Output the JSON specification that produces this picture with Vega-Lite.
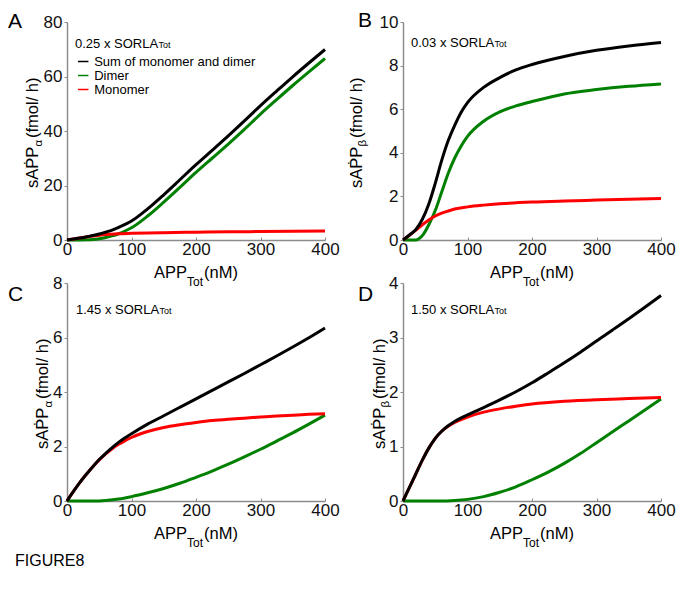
{
  "$schema": "https://vega.github.io/schema/vega-lite/v6.json",
  "padding": {"left": 8, "top": 10, "right": 5, "bottom": 5},
  "background": "white",
  "config": {
    "view": {"stroke": null},
    "text": {"font": "Liberation Sans", "color": "#000000"},
    "axis": {"grid": false, "domainColor": "#8c8c8c", "domainWidth": 1.5, "tickColor": "#8c8c8c", "tickWidth": 1, "tickSize": 3, "labelFont": "Liberation Sans", "labelFontSize": 17, "labelColor": "#111111", "labelPadding": 2, "labelFlush": false, "labelOverlap": false},
    "axisX": {"tickSize": -3, "labelPadding": 4}
  },
  "datasets": {
    "A": [
      {"s": "Dimer", "x": 0, "y": 0}, {"s": "Dimer", "x": 20, "y": 0.02}, {"s": "Dimer", "x": 30, "y": 0.06}, {"s": "Dimer", "x": 40, "y": 0.18}, {"s": "Dimer", "x": 50, "y": 0.45}, {"s": "Dimer", "x": 60, "y": 0.9}, {"s": "Dimer", "x": 70, "y": 1.5}, {"s": "Dimer", "x": 80, "y": 2.3}, {"s": "Dimer", "x": 90, "y": 3.3}, {"s": "Dimer", "x": 100, "y": 4.5}, {"s": "Dimer", "x": 125, "y": 8.8}, {"s": "Dimer", "x": 150, "y": 13.9}, {"s": "Dimer", "x": 175, "y": 19.3}, {"s": "Dimer", "x": 200, "y": 24.8}, {"s": "Dimer", "x": 225, "y": 30.0}, {"s": "Dimer", "x": 250, "y": 35.2}, {"s": "Dimer", "x": 275, "y": 40.6}, {"s": "Dimer", "x": 300, "y": 46.2}, {"s": "Dimer", "x": 325, "y": 51.5}, {"s": "Dimer", "x": 350, "y": 56.7}, {"s": "Dimer", "x": 375, "y": 61.7}, {"s": "Dimer", "x": 400, "y": 66.6},
      {"s": "Monomer", "x": 0, "y": 0}, {"s": "Monomer", "x": 10, "y": 0.35}, {"s": "Monomer", "x": 20, "y": 0.7}, {"s": "Monomer", "x": 30, "y": 1.1}, {"s": "Monomer", "x": 40, "y": 1.45}, {"s": "Monomer", "x": 50, "y": 1.75}, {"s": "Monomer", "x": 60, "y": 2.0}, {"s": "Monomer", "x": 70, "y": 2.15}, {"s": "Monomer", "x": 80, "y": 2.3}, {"s": "Monomer", "x": 100, "y": 2.45}, {"s": "Monomer", "x": 125, "y": 2.6}, {"s": "Monomer", "x": 150, "y": 2.7}, {"s": "Monomer", "x": 200, "y": 2.85}, {"s": "Monomer", "x": 250, "y": 3.0}, {"s": "Monomer", "x": 300, "y": 3.1}, {"s": "Monomer", "x": 350, "y": 3.2}, {"s": "Monomer", "x": 400, "y": 3.3},
      {"s": "Sum of monomer and dimer", "x": 0, "y": 0}, {"s": "Sum of monomer and dimer", "x": 10, "y": 0.35}, {"s": "Sum of monomer and dimer", "x": 20, "y": 0.72}, {"s": "Sum of monomer and dimer", "x": 30, "y": 1.16}, {"s": "Sum of monomer and dimer", "x": 40, "y": 1.63}, {"s": "Sum of monomer and dimer", "x": 50, "y": 2.2}, {"s": "Sum of monomer and dimer", "x": 60, "y": 2.9}, {"s": "Sum of monomer and dimer", "x": 70, "y": 3.65}, {"s": "Sum of monomer and dimer", "x": 80, "y": 4.6}, {"s": "Sum of monomer and dimer", "x": 90, "y": 5.7}, {"s": "Sum of monomer and dimer", "x": 100, "y": 6.95}, {"s": "Sum of monomer and dimer", "x": 125, "y": 11.4}, {"s": "Sum of monomer and dimer", "x": 150, "y": 16.6}, {"s": "Sum of monomer and dimer", "x": 175, "y": 22.1}, {"s": "Sum of monomer and dimer", "x": 200, "y": 27.65}, {"s": "Sum of monomer and dimer", "x": 225, "y": 32.9}, {"s": "Sum of monomer and dimer", "x": 250, "y": 38.2}, {"s": "Sum of monomer and dimer", "x": 275, "y": 43.7}, {"s": "Sum of monomer and dimer", "x": 300, "y": 49.3}, {"s": "Sum of monomer and dimer", "x": 325, "y": 54.65}, {"s": "Sum of monomer and dimer", "x": 350, "y": 59.9}, {"s": "Sum of monomer and dimer", "x": 375, "y": 64.95}, {"s": "Sum of monomer and dimer", "x": 400, "y": 69.9}
    ],
    "B": [
      {"s": "Dimer", "x": 0, "y": 0}, {"s": "Dimer", "x": 20, "y": 0.0}, {"s": "Dimer", "x": 25, "y": 0.07}, {"s": "Dimer", "x": 30, "y": 0.2}, {"s": "Dimer", "x": 40, "y": 0.7}, {"s": "Dimer", "x": 50, "y": 1.35}, {"s": "Dimer", "x": 60, "y": 2.2}, {"s": "Dimer", "x": 70, "y": 3.05}, {"s": "Dimer", "x": 80, "y": 3.75}, {"s": "Dimer", "x": 90, "y": 4.3}, {"s": "Dimer", "x": 100, "y": 4.75}, {"s": "Dimer", "x": 125, "y": 5.45}, {"s": "Dimer", "x": 150, "y": 5.88}, {"s": "Dimer", "x": 175, "y": 6.15}, {"s": "Dimer", "x": 200, "y": 6.35}, {"s": "Dimer", "x": 250, "y": 6.7}, {"s": "Dimer", "x": 300, "y": 6.9}, {"s": "Dimer", "x": 350, "y": 7.05}, {"s": "Dimer", "x": 400, "y": 7.16},
      {"s": "Monomer", "x": 0, "y": 0}, {"s": "Monomer", "x": 10, "y": 0.22}, {"s": "Monomer", "x": 20, "y": 0.45}, {"s": "Monomer", "x": 30, "y": 0.7}, {"s": "Monomer", "x": 40, "y": 0.92}, {"s": "Monomer", "x": 50, "y": 1.1}, {"s": "Monomer", "x": 60, "y": 1.23}, {"s": "Monomer", "x": 70, "y": 1.33}, {"s": "Monomer", "x": 80, "y": 1.42}, {"s": "Monomer", "x": 100, "y": 1.52}, {"s": "Monomer", "x": 125, "y": 1.6}, {"s": "Monomer", "x": 150, "y": 1.66}, {"s": "Monomer", "x": 200, "y": 1.74}, {"s": "Monomer", "x": 250, "y": 1.79}, {"s": "Monomer", "x": 300, "y": 1.83}, {"s": "Monomer", "x": 350, "y": 1.87}, {"s": "Monomer", "x": 400, "y": 1.9},
      {"s": "Sum of monomer and dimer", "x": 0, "y": 0}, {"s": "Sum of monomer and dimer", "x": 10, "y": 0.23}, {"s": "Sum of monomer and dimer", "x": 20, "y": 0.48}, {"s": "Sum of monomer and dimer", "x": 30, "y": 0.95}, {"s": "Sum of monomer and dimer", "x": 40, "y": 1.65}, {"s": "Sum of monomer and dimer", "x": 50, "y": 2.6}, {"s": "Sum of monomer and dimer", "x": 60, "y": 3.65}, {"s": "Sum of monomer and dimer", "x": 70, "y": 4.55}, {"s": "Sum of monomer and dimer", "x": 80, "y": 5.25}, {"s": "Sum of monomer and dimer", "x": 90, "y": 5.85}, {"s": "Sum of monomer and dimer", "x": 100, "y": 6.3}, {"s": "Sum of monomer and dimer", "x": 125, "y": 7.0}, {"s": "Sum of monomer and dimer", "x": 150, "y": 7.45}, {"s": "Sum of monomer and dimer", "x": 175, "y": 7.8}, {"s": "Sum of monomer and dimer", "x": 200, "y": 8.05}, {"s": "Sum of monomer and dimer", "x": 250, "y": 8.42}, {"s": "Sum of monomer and dimer", "x": 300, "y": 8.7}, {"s": "Sum of monomer and dimer", "x": 350, "y": 8.9}, {"s": "Sum of monomer and dimer", "x": 400, "y": 9.06}
    ],
    "C": [
      {"s": "Dimer", "x": 0, "y": 0}, {"s": "Dimer", "x": 40, "y": 0.0}, {"s": "Dimer", "x": 60, "y": 0.02}, {"s": "Dimer", "x": 80, "y": 0.07}, {"s": "Dimer", "x": 100, "y": 0.16}, {"s": "Dimer", "x": 125, "y": 0.3}, {"s": "Dimer", "x": 150, "y": 0.46}, {"s": "Dimer", "x": 175, "y": 0.65}, {"s": "Dimer", "x": 200, "y": 0.87}, {"s": "Dimer", "x": 225, "y": 1.1}, {"s": "Dimer", "x": 250, "y": 1.35}, {"s": "Dimer", "x": 275, "y": 1.62}, {"s": "Dimer", "x": 300, "y": 1.9}, {"s": "Dimer", "x": 325, "y": 2.2}, {"s": "Dimer", "x": 350, "y": 2.5}, {"s": "Dimer", "x": 375, "y": 2.82}, {"s": "Dimer", "x": 400, "y": 3.15},
      {"s": "Monomer", "x": 0, "y": 0}, {"s": "Monomer", "x": 10, "y": 0.35}, {"s": "Monomer", "x": 20, "y": 0.68}, {"s": "Monomer", "x": 30, "y": 0.98}, {"s": "Monomer", "x": 40, "y": 1.26}, {"s": "Monomer", "x": 50, "y": 1.51}, {"s": "Monomer", "x": 60, "y": 1.73}, {"s": "Monomer", "x": 70, "y": 1.92}, {"s": "Monomer", "x": 80, "y": 2.08}, {"s": "Monomer", "x": 90, "y": 2.21}, {"s": "Monomer", "x": 100, "y": 2.33}, {"s": "Monomer", "x": 125, "y": 2.55}, {"s": "Monomer", "x": 150, "y": 2.7}, {"s": "Monomer", "x": 175, "y": 2.8}, {"s": "Monomer", "x": 200, "y": 2.88}, {"s": "Monomer", "x": 225, "y": 2.95}, {"s": "Monomer", "x": 250, "y": 3.0}, {"s": "Monomer", "x": 275, "y": 3.04}, {"s": "Monomer", "x": 300, "y": 3.08}, {"s": "Monomer", "x": 325, "y": 3.12}, {"s": "Monomer", "x": 350, "y": 3.15}, {"s": "Monomer", "x": 375, "y": 3.18}, {"s": "Monomer", "x": 400, "y": 3.2},
      {"s": "Sum of monomer and dimer", "x": 0, "y": 0}, {"s": "Sum of monomer and dimer", "x": 10, "y": 0.35}, {"s": "Sum of monomer and dimer", "x": 20, "y": 0.68}, {"s": "Sum of monomer and dimer", "x": 30, "y": 0.98}, {"s": "Sum of monomer and dimer", "x": 40, "y": 1.26}, {"s": "Sum of monomer and dimer", "x": 50, "y": 1.52}, {"s": "Sum of monomer and dimer", "x": 60, "y": 1.75}, {"s": "Sum of monomer and dimer", "x": 70, "y": 1.96}, {"s": "Sum of monomer and dimer", "x": 80, "y": 2.15}, {"s": "Sum of monomer and dimer", "x": 90, "y": 2.32}, {"s": "Sum of monomer and dimer", "x": 100, "y": 2.47}, {"s": "Sum of monomer and dimer", "x": 125, "y": 2.82}, {"s": "Sum of monomer and dimer", "x": 150, "y": 3.13}, {"s": "Sum of monomer and dimer", "x": 175, "y": 3.44}, {"s": "Sum of monomer and dimer", "x": 200, "y": 3.75}, {"s": "Sum of monomer and dimer", "x": 225, "y": 4.06}, {"s": "Sum of monomer and dimer", "x": 250, "y": 4.37}, {"s": "Sum of monomer and dimer", "x": 275, "y": 4.68}, {"s": "Sum of monomer and dimer", "x": 300, "y": 5.0}, {"s": "Sum of monomer and dimer", "x": 325, "y": 5.32}, {"s": "Sum of monomer and dimer", "x": 350, "y": 5.65}, {"s": "Sum of monomer and dimer", "x": 375, "y": 5.99}, {"s": "Sum of monomer and dimer", "x": 400, "y": 6.35}
    ],
    "D": [
      {"s": "Dimer", "x": 0, "y": 0}, {"s": "Dimer", "x": 60, "y": 0.0}, {"s": "Dimer", "x": 80, "y": 0.01}, {"s": "Dimer", "x": 100, "y": 0.03}, {"s": "Dimer", "x": 125, "y": 0.08}, {"s": "Dimer", "x": 150, "y": 0.16}, {"s": "Dimer", "x": 175, "y": 0.26}, {"s": "Dimer", "x": 200, "y": 0.39}, {"s": "Dimer", "x": 225, "y": 0.53}, {"s": "Dimer", "x": 250, "y": 0.69}, {"s": "Dimer", "x": 275, "y": 0.87}, {"s": "Dimer", "x": 300, "y": 1.07}, {"s": "Dimer", "x": 325, "y": 1.27}, {"s": "Dimer", "x": 350, "y": 1.47}, {"s": "Dimer", "x": 375, "y": 1.67}, {"s": "Dimer", "x": 400, "y": 1.87},
      {"s": "Monomer", "x": 0, "y": 0}, {"s": "Monomer", "x": 10, "y": 0.25}, {"s": "Monomer", "x": 20, "y": 0.5}, {"s": "Monomer", "x": 30, "y": 0.75}, {"s": "Monomer", "x": 40, "y": 0.97}, {"s": "Monomer", "x": 50, "y": 1.15}, {"s": "Monomer", "x": 60, "y": 1.28}, {"s": "Monomer", "x": 70, "y": 1.37}, {"s": "Monomer", "x": 80, "y": 1.44}, {"s": "Monomer", "x": 100, "y": 1.54}, {"s": "Monomer", "x": 125, "y": 1.63}, {"s": "Monomer", "x": 150, "y": 1.69}, {"s": "Monomer", "x": 175, "y": 1.74}, {"s": "Monomer", "x": 200, "y": 1.78}, {"s": "Monomer", "x": 250, "y": 1.83}, {"s": "Monomer", "x": 300, "y": 1.86}, {"s": "Monomer", "x": 350, "y": 1.88}, {"s": "Monomer", "x": 400, "y": 1.9},
      {"s": "Sum of monomer and dimer", "x": 0, "y": 0}, {"s": "Sum of monomer and dimer", "x": 10, "y": 0.25}, {"s": "Sum of monomer and dimer", "x": 20, "y": 0.5}, {"s": "Sum of monomer and dimer", "x": 30, "y": 0.75}, {"s": "Sum of monomer and dimer", "x": 40, "y": 0.97}, {"s": "Sum of monomer and dimer", "x": 50, "y": 1.15}, {"s": "Sum of monomer and dimer", "x": 60, "y": 1.28}, {"s": "Sum of monomer and dimer", "x": 70, "y": 1.38}, {"s": "Sum of monomer and dimer", "x": 80, "y": 1.46}, {"s": "Sum of monomer and dimer", "x": 100, "y": 1.58}, {"s": "Sum of monomer and dimer", "x": 125, "y": 1.715}, {"s": "Sum of monomer and dimer", "x": 150, "y": 1.855}, {"s": "Sum of monomer and dimer", "x": 175, "y": 2.005}, {"s": "Sum of monomer and dimer", "x": 200, "y": 2.17}, {"s": "Sum of monomer and dimer", "x": 225, "y": 2.35}, {"s": "Sum of monomer and dimer", "x": 250, "y": 2.535}, {"s": "Sum of monomer and dimer", "x": 275, "y": 2.73}, {"s": "Sum of monomer and dimer", "x": 300, "y": 2.935}, {"s": "Sum of monomer and dimer", "x": 325, "y": 3.14}, {"s": "Sum of monomer and dimer", "x": 350, "y": 3.345}, {"s": "Sum of monomer and dimer", "x": 375, "y": 3.555}, {"s": "Sum of monomer and dimer", "x": 400, "y": 3.77}
    ]
  },
  "bounds": "flush",
  "columns": 2,
  "spacing": {"row": 43, "column": 78},
  "resolve": {"scale": {"color": "independent"}, "legend": {"color": "independent"}},
  "concat": [
    {
      "width": 258, "height": 218,
      "layer": [
        {
          "data": {"name": "A"},
          "encoding": {
            "x": {"field": "x", "type": "quantitative", "scale": {"domain": [0, 400], "nice": false}, "axis": {"values": [0, 100, 200, 300, 400], "format": "d", "title": null}},
            "y": {"field": "y", "type": "quantitative", "scale": {"domain": [0, 80], "nice": false}, "axis": {"values": [0, 20, 40, 60, 80], "format": "d", "title": null}},
            "color": {"field": "s", "type": "nominal", "scale": {"domain": ["Sum of monomer and dimer", "Dimer", "Monomer"], "range": ["#000000", "#008000", "#ff0000"]},
              "legend": {"title": null, "orient": "none", "legendX": 9.7, "legendY": 33, "padding": 0, "symbolType": "stroke", "symbolSize": 110, "symbolStrokeWidth": 1.5, "labelFont": "Liberation Sans", "labelFontSize": 13, "labelColor": "#000000", "labelOffset": 4.5, "labelLimit": 400, "rowPadding": -1}}
          },
          "layer": [
            {"transform": [{"filter": "datum.s === 'Dimer'"}], "mark": {"type": "line", "strokeWidth": 3, "interpolate": "monotone"}},
            {"transform": [{"filter": "datum.s === 'Monomer'"}], "mark": {"type": "line", "strokeWidth": 3, "interpolate": "monotone"}},
            {"transform": [{"filter": "datum.s === 'Sum of monomer and dimer'"}], "mark": {"type": "line", "strokeWidth": 3, "interpolate": "monotone"}}
          ]
        },
        {"data": {"values": [{}]}, "mark": {"type": "text", "text": "A", "fontSize": 21, "align": "left", "baseline": "alphabetic", "dx": -59, "dy": 6}, "encoding": {"x": {"datum": 0, "type": "quantitative"}, "y": {"datum": 80, "type": "quantitative"}}},
        {"data": {"values": [{}]}, "mark": {"type": "text", "text": "0.25 x SORLA", "fontSize": 13, "align": "left", "baseline": "alphabetic", "dx": 8, "dy": 26}, "encoding": {"x": {"datum": 0, "type": "quantitative"}, "y": {"datum": 80, "type": "quantitative"}}},
        {"data": {"values": [{}]}, "mark": {"type": "text", "text": "Tot", "fontSize": 9, "align": "left", "baseline": "alphabetic", "dx": 91.5, "dy": 26}, "encoding": {"x": {"datum": 0, "type": "quantitative"}, "y": {"datum": 80, "type": "quantitative"}}},
        {"data": {"values": [{}]}, "mark": {"type": "text", "text": "APP", "fontSize": 16.5, "align": "right", "baseline": "alphabetic", "dx": -9, "dy": 38}, "encoding": {"x": {"datum": 200, "type": "quantitative"}, "y": {"datum": 0, "type": "quantitative"}}},
        {"data": {"values": [{}]}, "mark": {"type": "text", "text": "Tot", "fontSize": 12, "align": "left", "baseline": "alphabetic", "dx": -9, "dy": 46}, "encoding": {"x": {"datum": 200, "type": "quantitative"}, "y": {"datum": 0, "type": "quantitative"}}},
        {"data": {"values": [{}]}, "mark": {"type": "text", "text": "(nM)", "fontSize": 16.5, "align": "left", "baseline": "alphabetic", "dx": 8, "dy": 38}, "encoding": {"x": {"datum": 200, "type": "quantitative"}, "y": {"datum": 0, "type": "quantitative"}}},
        {"data": {"values": [{}]}, "mark": {"type": "text", "text": "sAṖP", "fontSize": 16.5, "angle": 270, "align": "left", "baseline": "alphabetic", "dx": -57, "dy": -29}, "encoding": {"x": {"datum": 0, "type": "quantitative"}, "y": {"datum": 40, "type": "quantitative"}}},
        {"data": {"values": [{}]}, "mark": {"type": "text", "text": "α", "fontSize": 11.5, "angle": 270, "align": "left", "baseline": "alphabetic", "dx": -15.5, "dy": -25}, "encoding": {"x": {"datum": 0, "type": "quantitative"}, "y": {"datum": 40, "type": "quantitative"}}},
        {"data": {"values": [{}]}, "mark": {"type": "text", "text": "(fmol/ h)", "fontSize": 16.5, "angle": 270, "align": "left", "baseline": "alphabetic", "dx": -7, "dy": -29}, "encoding": {"x": {"datum": 0, "type": "quantitative"}, "y": {"datum": 40, "type": "quantitative"}}}
      ]
    },
    {
      "width": 258, "height": 218,
      "layer": [
        {
          "data": {"name": "B"},
          "encoding": {
            "x": {"field": "x", "type": "quantitative", "scale": {"domain": [0, 400], "nice": false}, "axis": {"values": [0, 100, 200, 300, 400], "format": "d", "title": null}},
            "y": {"field": "y", "type": "quantitative", "scale": {"domain": [0, 10], "nice": false}, "axis": {"values": [0, 2, 4, 6, 8, 10], "format": "d", "title": null}},
            "color": {"field": "s", "type": "nominal", "scale": {"domain": ["Sum of monomer and dimer", "Dimer", "Monomer"], "range": ["#000000", "#008000", "#ff0000"]}, "legend": null}
          },
          "layer": [
            {"transform": [{"filter": "datum.s === 'Dimer'"}], "mark": {"type": "line", "strokeWidth": 3, "interpolate": "monotone"}},
            {"transform": [{"filter": "datum.s === 'Monomer'"}], "mark": {"type": "line", "strokeWidth": 3, "interpolate": "monotone"}},
            {"transform": [{"filter": "datum.s === 'Sum of monomer and dimer'"}], "mark": {"type": "line", "strokeWidth": 3, "interpolate": "monotone"}}
          ]
        },
        {"data": {"values": [{}]}, "mark": {"type": "text", "text": "B", "fontSize": 21, "align": "left", "baseline": "alphabetic", "dx": -45, "dy": 5}, "encoding": {"x": {"datum": 0, "type": "quantitative"}, "y": {"datum": 10, "type": "quantitative"}}},
        {"data": {"values": [{}]}, "mark": {"type": "text", "text": "0.03 x SORLA", "fontSize": 13, "align": "left", "baseline": "alphabetic", "dx": 8, "dy": 25}, "encoding": {"x": {"datum": 0, "type": "quantitative"}, "y": {"datum": 10, "type": "quantitative"}}},
        {"data": {"values": [{}]}, "mark": {"type": "text", "text": "Tot", "fontSize": 9, "align": "left", "baseline": "alphabetic", "dx": 91.5, "dy": 25}, "encoding": {"x": {"datum": 0, "type": "quantitative"}, "y": {"datum": 10, "type": "quantitative"}}},
        {"data": {"values": [{}]}, "mark": {"type": "text", "text": "APP", "fontSize": 16.5, "align": "right", "baseline": "alphabetic", "dx": -9, "dy": 38}, "encoding": {"x": {"datum": 200, "type": "quantitative"}, "y": {"datum": 0, "type": "quantitative"}}},
        {"data": {"values": [{}]}, "mark": {"type": "text", "text": "Tot", "fontSize": 12, "align": "left", "baseline": "alphabetic", "dx": -9, "dy": 46}, "encoding": {"x": {"datum": 200, "type": "quantitative"}, "y": {"datum": 0, "type": "quantitative"}}},
        {"data": {"values": [{}]}, "mark": {"type": "text", "text": "(nM)", "fontSize": 16.5, "align": "left", "baseline": "alphabetic", "dx": 8, "dy": 38}, "encoding": {"x": {"datum": 200, "type": "quantitative"}, "y": {"datum": 0, "type": "quantitative"}}},
        {"data": {"values": [{}]}, "mark": {"type": "text", "text": "sAṖP", "fontSize": 16.5, "angle": 270, "align": "left", "baseline": "alphabetic", "dx": -57, "dy": -41}, "encoding": {"x": {"datum": 0, "type": "quantitative"}, "y": {"datum": 5, "type": "quantitative"}}},
        {"data": {"values": [{}]}, "mark": {"type": "text", "text": "β", "fontSize": 11.5, "angle": 270, "align": "left", "baseline": "alphabetic", "dx": -15.5, "dy": -37}, "encoding": {"x": {"datum": 0, "type": "quantitative"}, "y": {"datum": 5, "type": "quantitative"}}},
        {"data": {"values": [{}]}, "mark": {"type": "text", "text": "(fmol/ h)", "fontSize": 16.5, "angle": 270, "align": "left", "baseline": "alphabetic", "dx": -7, "dy": -41}, "encoding": {"x": {"datum": 0, "type": "quantitative"}, "y": {"datum": 5, "type": "quantitative"}}}
      ]
    },
    {
      "width": 258, "height": 218,
      "layer": [
        {
          "data": {"name": "C"},
          "encoding": {
            "x": {"field": "x", "type": "quantitative", "scale": {"domain": [0, 400], "nice": false}, "axis": {"values": [0, 100, 200, 300, 400], "format": "d", "title": null}},
            "y": {"field": "y", "type": "quantitative", "scale": {"domain": [0, 8], "nice": false}, "axis": {"values": [0, 2, 4, 6, 8], "format": "d", "title": null}},
            "color": {"field": "s", "type": "nominal", "scale": {"domain": ["Sum of monomer and dimer", "Dimer", "Monomer"], "range": ["#000000", "#008000", "#ff0000"]}, "legend": null}
          },
          "layer": [
            {"transform": [{"filter": "datum.s === 'Dimer'"}], "mark": {"type": "line", "strokeWidth": 3, "interpolate": "monotone"}},
            {"transform": [{"filter": "datum.s === 'Monomer'"}], "mark": {"type": "line", "strokeWidth": 3, "interpolate": "monotone"}},
            {"transform": [{"filter": "datum.s === 'Sum of monomer and dimer'"}], "mark": {"type": "line", "strokeWidth": 3, "interpolate": "monotone"}}
          ]
        },
        {"data": {"values": [{}]}, "mark": {"type": "text", "text": "C", "fontSize": 21, "align": "left", "baseline": "alphabetic", "dx": -59, "dy": 18}, "encoding": {"x": {"datum": 0, "type": "quantitative"}, "y": {"datum": 8, "type": "quantitative"}}},
        {"data": {"values": [{}]}, "mark": {"type": "text", "text": "1.45 x SORLA", "fontSize": 13, "align": "left", "baseline": "alphabetic", "dx": 9, "dy": 31}, "encoding": {"x": {"datum": 0, "type": "quantitative"}, "y": {"datum": 8, "type": "quantitative"}}},
        {"data": {"values": [{}]}, "mark": {"type": "text", "text": "Tot", "fontSize": 9, "align": "left", "baseline": "alphabetic", "dx": 92.5, "dy": 31}, "encoding": {"x": {"datum": 0, "type": "quantitative"}, "y": {"datum": 8, "type": "quantitative"}}},
        {"data": {"values": [{}]}, "mark": {"type": "text", "text": "APP", "fontSize": 16.5, "align": "right", "baseline": "alphabetic", "dx": -9, "dy": 38}, "encoding": {"x": {"datum": 200, "type": "quantitative"}, "y": {"datum": 0, "type": "quantitative"}}},
        {"data": {"values": [{}]}, "mark": {"type": "text", "text": "Tot", "fontSize": 12, "align": "left", "baseline": "alphabetic", "dx": -9, "dy": 46}, "encoding": {"x": {"datum": 200, "type": "quantitative"}, "y": {"datum": 0, "type": "quantitative"}}},
        {"data": {"values": [{}]}, "mark": {"type": "text", "text": "(nM)", "fontSize": 16.5, "align": "left", "baseline": "alphabetic", "dx": 8, "dy": 38}, "encoding": {"x": {"datum": 200, "type": "quantitative"}, "y": {"datum": 0, "type": "quantitative"}}},
        {"data": {"values": [{}]}, "mark": {"type": "text", "text": "sAṖP", "fontSize": 16.5, "angle": 270, "align": "left", "baseline": "alphabetic", "dx": -57, "dy": -19}, "encoding": {"x": {"datum": 0, "type": "quantitative"}, "y": {"datum": 4, "type": "quantitative"}}},
        {"data": {"values": [{}]}, "mark": {"type": "text", "text": "α", "fontSize": 11.5, "angle": 270, "align": "left", "baseline": "alphabetic", "dx": -15.5, "dy": -15}, "encoding": {"x": {"datum": 0, "type": "quantitative"}, "y": {"datum": 4, "type": "quantitative"}}},
        {"data": {"values": [{}]}, "mark": {"type": "text", "text": "(fmol/ h)", "fontSize": 16.5, "angle": 270, "align": "left", "baseline": "alphabetic", "dx": -7, "dy": -19}, "encoding": {"x": {"datum": 0, "type": "quantitative"}, "y": {"datum": 4, "type": "quantitative"}}},
        {"data": {"values": [{}]}, "mark": {"type": "text", "text": "FIGURE8", "fontSize": 16, "align": "left", "baseline": "alphabetic", "dx": -52, "dy": 65}, "encoding": {"x": {"datum": 0, "type": "quantitative"}, "y": {"datum": 0, "type": "quantitative"}}}
      ]
    },
    {
      "width": 258, "height": 218,
      "layer": [
        {
          "data": {"name": "D"},
          "encoding": {
            "x": {"field": "x", "type": "quantitative", "scale": {"domain": [0, 400], "nice": false}, "axis": {"values": [0, 100, 200, 300, 400], "format": "d", "title": null}},
            "y": {"field": "y", "type": "quantitative", "scale": {"domain": [0, 4], "nice": false}, "axis": {"values": [0, 1, 2, 3, 4], "format": "d", "title": null}},
            "color": {"field": "s", "type": "nominal", "scale": {"domain": ["Sum of monomer and dimer", "Dimer", "Monomer"], "range": ["#000000", "#008000", "#ff0000"]}, "legend": null}
          },
          "layer": [
            {"transform": [{"filter": "datum.s === 'Dimer'"}], "mark": {"type": "line", "strokeWidth": 3, "interpolate": "monotone"}},
            {"transform": [{"filter": "datum.s === 'Monomer'"}], "mark": {"type": "line", "strokeWidth": 3, "interpolate": "monotone"}},
            {"transform": [{"filter": "datum.s === 'Sum of monomer and dimer'"}], "mark": {"type": "line", "strokeWidth": 3, "interpolate": "monotone"}}
          ]
        },
        {"data": {"values": [{}]}, "mark": {"type": "text", "text": "D", "fontSize": 21, "align": "left", "baseline": "alphabetic", "dx": -45, "dy": 18}, "encoding": {"x": {"datum": 0, "type": "quantitative"}, "y": {"datum": 4, "type": "quantitative"}}},
        {"data": {"values": [{}]}, "mark": {"type": "text", "text": "1.50 x SORLA", "fontSize": 13, "align": "left", "baseline": "alphabetic", "dx": 8, "dy": 31}, "encoding": {"x": {"datum": 0, "type": "quantitative"}, "y": {"datum": 4, "type": "quantitative"}}},
        {"data": {"values": [{}]}, "mark": {"type": "text", "text": "Tot", "fontSize": 9, "align": "left", "baseline": "alphabetic", "dx": 91.5, "dy": 31}, "encoding": {"x": {"datum": 0, "type": "quantitative"}, "y": {"datum": 4, "type": "quantitative"}}},
        {"data": {"values": [{}]}, "mark": {"type": "text", "text": "APP", "fontSize": 16.5, "align": "right", "baseline": "alphabetic", "dx": -9, "dy": 38}, "encoding": {"x": {"datum": 200, "type": "quantitative"}, "y": {"datum": 0, "type": "quantitative"}}},
        {"data": {"values": [{}]}, "mark": {"type": "text", "text": "Tot", "fontSize": 12, "align": "left", "baseline": "alphabetic", "dx": -9, "dy": 46}, "encoding": {"x": {"datum": 200, "type": "quantitative"}, "y": {"datum": 0, "type": "quantitative"}}},
        {"data": {"values": [{}]}, "mark": {"type": "text", "text": "(nM)", "fontSize": 16.5, "align": "left", "baseline": "alphabetic", "dx": 8, "dy": 38}, "encoding": {"x": {"datum": 200, "type": "quantitative"}, "y": {"datum": 0, "type": "quantitative"}}},
        {"data": {"values": [{}]}, "mark": {"type": "text", "text": "sAṖP", "fontSize": 16.5, "angle": 270, "align": "left", "baseline": "alphabetic", "dx": -57, "dy": -18}, "encoding": {"x": {"datum": 0, "type": "quantitative"}, "y": {"datum": 2, "type": "quantitative"}}},
        {"data": {"values": [{}]}, "mark": {"type": "text", "text": "β", "fontSize": 11.5, "angle": 270, "align": "left", "baseline": "alphabetic", "dx": -15.5, "dy": -14}, "encoding": {"x": {"datum": 0, "type": "quantitative"}, "y": {"datum": 2, "type": "quantitative"}}},
        {"data": {"values": [{}]}, "mark": {"type": "text", "text": "(fmol/ h)", "fontSize": 16.5, "angle": 270, "align": "left", "baseline": "alphabetic", "dx": -7, "dy": -18}, "encoding": {"x": {"datum": 0, "type": "quantitative"}, "y": {"datum": 2, "type": "quantitative"}}}
      ]
    }
  ]
}
